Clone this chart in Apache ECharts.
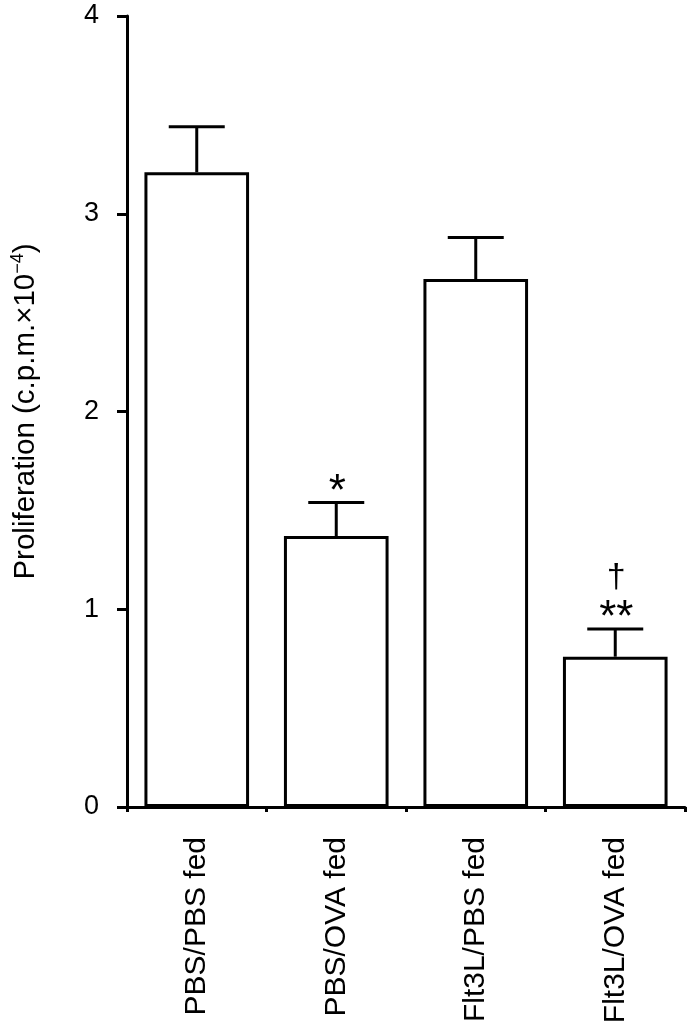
<!DOCTYPE html>
<html>
<head>
<meta charset="utf-8">
<script src="https://cdn.jsdelivr.net/npm/echarts@6/dist/echarts.min.js"></script>
<style>html,body{margin:0;padding:0;background:#fff;}#chart{width:692px;height:1025px;}</style>
</head>
<body>
<div id="chart"></div>
<script>
var categories = ['PBS/PBS fed', 'PBS/OVA fed', 'Flt3L/PBS fed', 'Flt3L/OVA fed'];
var means = [3.21, 1.37, 2.67, 0.76];
var errors = [0.23, 0.17, 0.21, 0.14];
var stars = ['', '*', '', '**'];
var daggers = ['', '', '', '†'];
var yTicks = [0, 1, 2, 3, 4];

var FONT = '"Liberation Sans", Arial, Helvetica, sans-serif';
var chart = echarts.init(document.getElementById('chart'));

var errData = categories.map(function (c, i) { return [i, means[i], errors[i], stars[i], daggers[i]]; });

chart.setOption({
  animation: false,
  backgroundColor: '#fff',
  grid: { left: 127, right: 7, top: 16, bottom: 218, containLabel: false, outerBoundsMode: 'none' },
  xAxis: {
    type: 'category',
    data: categories,
    axisLine: { lineStyle: { color: '#000', width: 3 } },
    axisTick: { show: true, length: 5, lineStyle: { color: '#000', width: 3 } },
    axisLabel: { rotate: 90, margin: 30, color: '#000', fontSize: 30, fontFamily: FONT, interval: 0 }
  },
  yAxis: {
    type: 'value',
    min: 0, max: 4, interval: 1,
    name: 'Proliferation (c.p.m.\u00d710{sup|\u22124})',
    nameLocation: 'middle',
    nameGap: 84,
    nameRotate: 90,
    nameTextStyle: {
      color: '#000', fontSize: 29.5, fontFamily: FONT,
      rich: { sup: { fontSize: 18, fontFamily: FONT, color: '#000', verticalAlign: 'top', padding: [0, 0, 16, 0] } }
    },
    axisLine: { show: true, lineStyle: { color: '#000', width: 3 } },
    axisTick: { show: true, length: 10, lineStyle: { color: '#000', width: 3 } },
    axisLabel: { margin: 28, color: '#000', fontSize: 27, fontFamily: FONT,
      formatter: function (v) { return yTicks.indexOf(v) >= 0 ? String(v) : ''; } },
    splitLine: { show: false }
  },
  series: [
    {
      type: 'bar',
      data: means,
      barWidth: '75%',
      itemStyle: { color: '#fff', borderColor: '#000', borderWidth: 3 },
      z: 2
    },
    {
      type: 'custom',
      data: errData,
      z: 3,
      renderItem: function (params, api) {
        var i = api.value(0);
        var base = api.coord([i, api.value(1)]);
        var top = api.coord([i, api.value(1) + api.value(2)]);
        var half = 28;
        var d = errData[params.dataIndex];
        var children = [
          { type: 'line', shape: { x1: base[0], y1: base[1], x2: top[0], y2: top[1] }, style: { stroke: '#000', lineWidth: 3 } },
          { type: 'line', shape: { x1: top[0] - half, y1: top[1], x2: top[0] + half, y2: top[1] }, style: { stroke: '#000', lineWidth: 3 } }
        ];
        if (d[3]) {
          children.push({ type: 'text', style: { text: d[3], x: top[0] + 1, y: top[1] + 12, align: 'center', verticalAlign: 'bottom', fontSize: 44, fontFamily: FONT, fill: '#000' } });
        }
        if (d[4]) {
          children.push({ type: 'text', style: { text: d[4], x: top[0] + 1, y: top[1] - 34, align: 'center', verticalAlign: 'bottom', fontSize: 34, fontFamily: FONT, fill: '#000' } });
        }
        return { type: 'group', children: children };
      }
    }
  ]
});
</script>
</body>
</html>
